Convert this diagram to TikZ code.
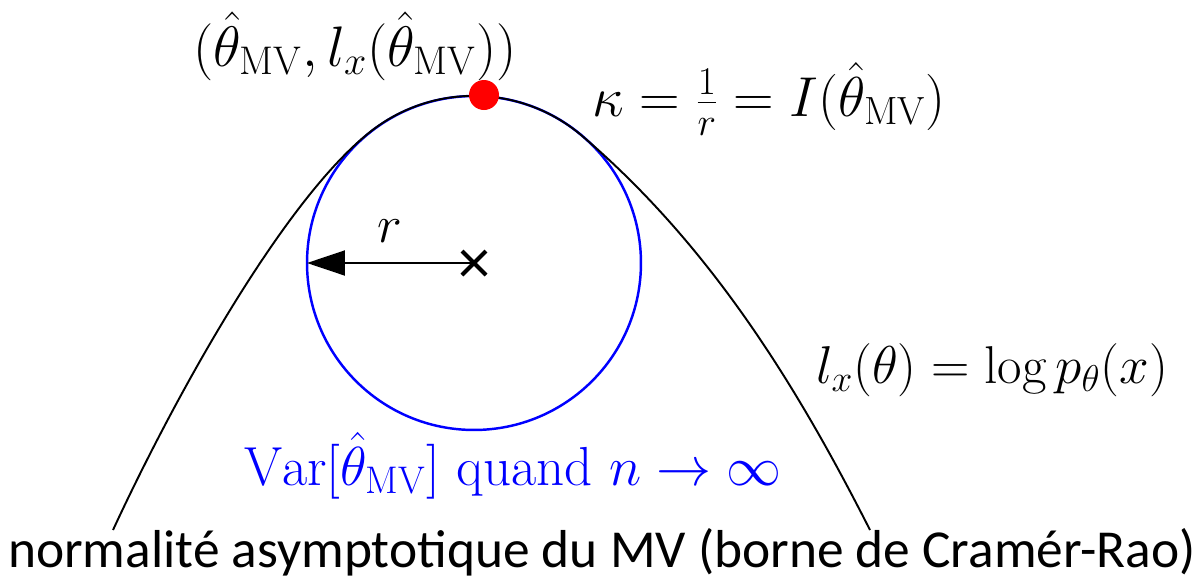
\RequirePackage{fix-cm}
\documentclass[tikz,border=0pt]{standalone}
\usepackage{fontspec}
\usetikzlibrary{arrows.meta}
\newfontfamily\calfont{Carlito}

\tikzset{
  mathlabel/.style={font=\fontsize{#1}{#1}\selectfont},
}

\begin{document}
\begin{tikzpicture}[x=0.02cm, y=-0.02cm, every node/.style={inner sep=0pt}]
  \useasboundingbox (0,0) rectangle (1201,579);

  % osculating circle
  \coordinate (C) at (474,263);
  \coordinate (L) at (307,263);
  \draw[blue, line width=1.4pt] (C) circle (3.34cm);

  % log-likelihood, touching the circle at the top
  \coordinate (A) at (113,530);
  \coordinate (B) at (870,530);
  \draw[line width=1.1pt] (A) .. controls (176,394) and (284,200) .. (370,132)
    arc[start angle=128.4, end angle=49.25, radius=3.34cm]
    .. controls (712,247) and (798,388) .. (B);

  \draw[-{Triangle[length=0.76cm, width=0.5cm]}, line width=1.1pt] (C) -- (L);
  \draw[line width=2.3pt] (462,251) -- (486,275);
  \draw[line width=2.3pt] (462,275) -- (486,251);

  \coordinate (M) at (484,95);
  \fill[red] (M) circle (0.3cm);

  \node[mathlabel=30] (rr) at (390,231) {\(r\)};
  \node[mathlabel=32.5] (top) at (355,46) {\((\hat\theta_{\mathrm{MV}}, l_x(\hat\theta_{\mathrm{MV}}))\)};
  \node[mathlabel=32] (kap) at (769,99) {\(\kappa = \frac{1}{r} = I(\hat\theta_{\mathrm{MV}})\)};
  \node[mathlabel=30.3] (lik) at (992,370) {\(l_x(\theta) = \log p_\theta(x)\)};
  \node[mathlabel=31.3, blue, anchor=base] (var) at (513,485)
    {\(\mathrm{Var}[\hat\theta_{\mathrm{MV}}]\) quand \(n \to \infty\)};
  \node[font=\calfont\fontsize{30.4}{36}\selectfont, anchor=base] (cr) at (602,567)
    {normalité asymptotique du MV (borne de Cramér-Rao)};
\end{tikzpicture}
\end{document}
